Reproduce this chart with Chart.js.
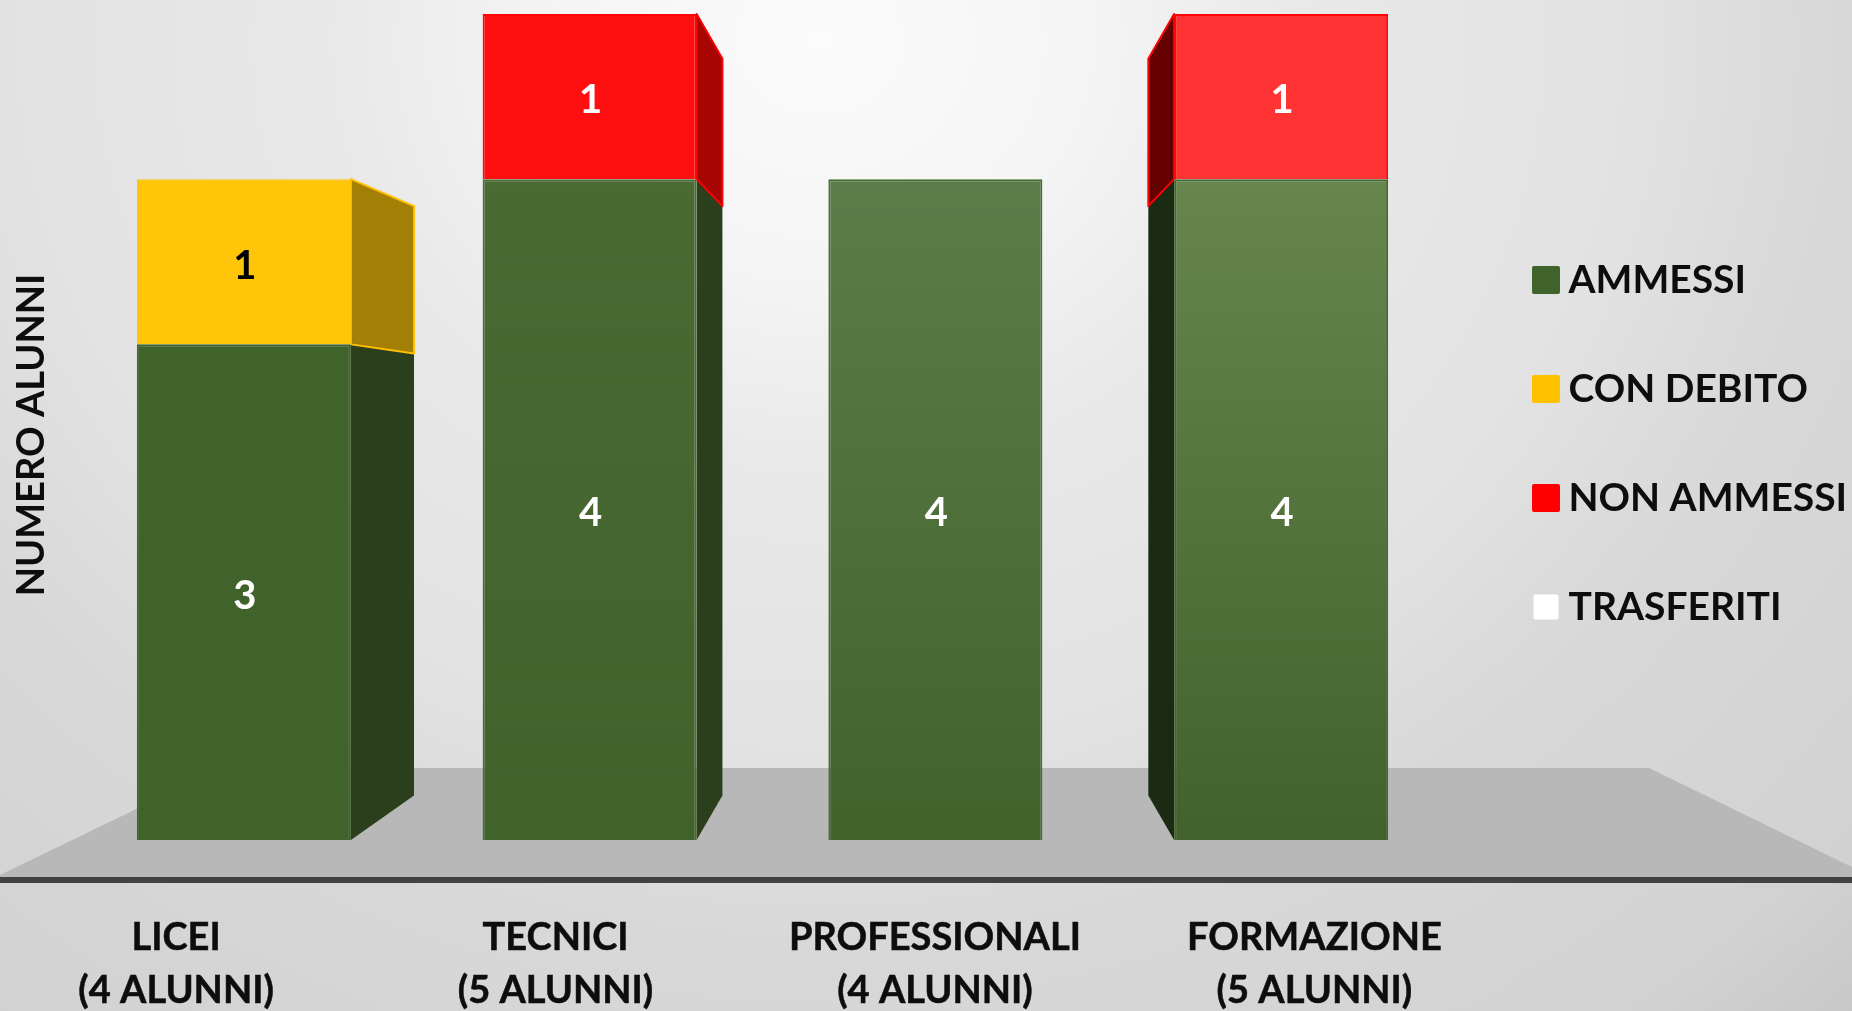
<!DOCTYPE html>
<html><head><meta charset="utf-8">
<style>
html,body{margin:0;padding:0;width:1852px;height:1011px;overflow:hidden;
background:radial-gradient(1300px 1150px at 820px 40px,#fbfbfb 0%,#f5f5f5 20%,#e9e9e9 37%,#e2e2e2 63%,#dcdcdc 72%,#d8d8d8 79%,#d2d2d2 105%,#c8c8c8 116%);}
canvas{display:block;margin-top:-10px;filter:blur(0.5px)}
</style>
<script src="https://cdn.jsdelivr.net/npm/chart.js@4"></script>
</head><body>
<canvas id="c" width="1852" height="1021"></canvas>
<script>
const CATEGORIES = ['LICEI','TECNICI','PROFESSIONALI','FORMAZIONE'];
const TICK_LABELS = [['LICEI','(4 ALUNNI)'],['TECNICI','(5 ALUNNI)'],['PROFESSIONALI','(4 ALUNNI)'],['FORMAZIONE','(5 ALUNNI)']];
const AMMESSI = [3,4,4,4];
const CON_DEBITO = [1,0,0,0];
const NON_AMMESSI = [0,1,0,1];
const TRASFERITI = [0,0,0,0];
const Y_TITLE = 'NUMERO ALUNNI';
// per-bar colours
const GREEN_TOP = ['#40622b','#4a6a34','#5c7d49','#66864e'];
const GREEN_BOTTOM = ['#40622b','#40622b','#40622b','#41622c'];
const GREEN_BORDER = ['#40622b','#4a6c36','#466d32','#44662f'];
const GREEN_SIDE = ['#2b3f1c','#2b3f1c','#2b3f1c','#1b2a12'];
const YELLOW_FACE = ['#ffc508','#ffc508','#ffc508','#ffc508'];
const YELLOW_SIDE = ['#a47f05','#a47f05','#a47f05','#a47f05'];
const RED_FACE = ['#ff1010','#ff1010','#ff1010','#ff3333'];
const RED_SIDE = ['#a80505','#a80505','#a80505','#650000'];
const LEGEND_COLORS = ['#40622b','#ffc000','#ff0000','#ffffff'];
const FONT_FAMILY = 'Lato';
const TEXT = '#0d0d0d';

function marker(color,size){
  const m=document.createElement('canvas');m.width=28;m.height=28;
  const g=m.getContext('2d');g.fillStyle=color;const o=(28-size)/2;
  g.beginPath();g.roundRect(o,o,size,size,2);g.fill();return m;
}
function stackTop(ctx,i){
  let s=0;for(let d=0;d<=ctx.datasetIndex;d++){s+=ctx.chart.data.datasets[d].data[i];}
  return s;
}
function gradFill(top,bottom){
  return ctx=>{
    const i=ctx.dataIndex;
    const y=ctx.chart.scales.y;
    if(!y||!ctx.chart.chartArea||top[i]===bottom[i])return bottom[i];
    const g=ctx.chart.ctx.createLinearGradient(0,y.getPixelForValue(stackTop(ctx,i)),0,y.getPixelForValue(0));
    g.addColorStop(0,top[i]);g.addColorStop(1,bottom[i]);return g;
  };
}
const bw=n=>ctx=>ctx.raw>0?n:0;

const perspective={
  id:'perspective',
  afterLayout(chart){
    const l=chart.legend;
    const w=l.right-l.left;
    l.left=1473;l.right=1473+w;
    const dy=-57;l.top+=dy;l.bottom+=dy;
  },
  beforeDraw(chart){
    const c=chart.ctx,y=chart.scales.y.getPixelForValue(0);
    c.save();c.fillStyle='#b8b8b8';c.beginPath();
    c.moveTo(221,y-72);c.lineTo(1649,y-72);c.lineTo(1852,y+27);c.lineTo(1852,y+40);c.lineTo(0,y+40);c.lineTo(0,y+35);
    c.closePath();c.fill();
    c.strokeStyle='#424242';c.lineWidth=6;c.beginPath();c.moveTo(0,y+40);c.lineTo(1852,y+40);c.stroke();
    c.restore();
  },
  beforeDatasetsDraw(chart){
    const c=chart.ctx;
    const vx=chart.scales.x.getPixelForValue(2),vy=439,k=0.108;
    const sides=[[GREEN_SIDE,null],[YELLOW_SIDE,'#ffc000'],[RED_SIDE,'#ff0000']];
    c.save();c.lineJoin='round';
    sides.forEach(([fill,stroke],d)=>{
      chart.getDatasetMeta(d).data.forEach((b,i)=>{
        if(!(chart.data.datasets[d].data[i]>0))return;
        const p=b.getProps(['x','y','base','width'],true);
        const dir=Math.sign(vx-p.x);
        if(Math.abs(vx-p.x)<1)return;
        const x0=p.x+dir*p.width/2;
        const x1=x0+k*(vx-x0);
        const t1=p.y+k*(vy-p.y),b1=p.base+k*(vy-p.base);
        c.beginPath();c.moveTo(x0,p.y);c.lineTo(x1,t1);c.lineTo(x1,b1);c.lineTo(x0,p.base);c.closePath();
        c.fillStyle=fill[i];c.fill();
        if(stroke){c.strokeStyle=stroke;c.lineWidth=2;c.stroke();}
      });
    });
    c.restore();
  },
  afterDatasetsDraw(chart){
    const c=chart.ctx;
    c.save();c.font='bold 40px '+FONT_FAMILY;c.textAlign='center';c.textBaseline='middle';
    chart.data.datasets.forEach((ds,d)=>{
      chart.getDatasetMeta(d).data.forEach((b,i)=>{
        if(!(ds.data[i]>0))return;
        const p=b.getProps(['x','y','base'],true);
        c.fillStyle=d===1?'#000':'#fff';
        c.fillText(String(ds.data[i]),p.x+1,(p.y+p.base)/2+4);
      });
    });
    c.restore();
  }
};

new Chart(document.getElementById('c'),{
  type:'bar',
  plugins:[perspective],
  data:{labels:CATEGORIES,datasets:[
    {label:'AMMESSI',data:AMMESSI,backgroundColor:gradFill(GREEN_TOP,GREEN_BOTTOM),borderColor:ctx=>GREEN_BORDER[ctx.dataIndex],borderWidth:bw(2)},
    {label:'CON DEBITO',data:CON_DEBITO,backgroundColor:ctx=>YELLOW_FACE[ctx.dataIndex],borderColor:'#ffc000',borderWidth:bw(1)},
    {label:'NON AMMESSI',data:NON_AMMESSI,backgroundColor:ctx=>RED_FACE[ctx.dataIndex],borderColor:'#ff0505',borderWidth:bw(2)},
    {label:'TRASFERITI',data:TRASFERITI,backgroundColor:'#ffffff',borderWidth:0}
  ]},
  options:{
    responsive:false,animation:false,
    layout:{padding:{top:0,left:0,right:20,bottom:0}},
    datasets:{bar:{barPercentage:1,categoryPercentage:0.619,stack:'s'}},
    plugins:{
      tooltip:{enabled:false},
      legend:{position:'right',maxWidth:378,labels:{
        color:TEXT,font:{family:FONT_FAMILY,size:39,weight:'bold'},
        boxWidth:6,boxHeight:28,padding:70,usePointStyle:true,
        generateLabels(chart){
          return Chart.defaults.plugins.legend.labels.generateLabels(chart).map((it,i)=>{
            it.pointStyle=marker(LEGEND_COLORS[i],i===3?25:28);it.lineWidth=0;it.fontColor=TEXT;return it;
          });
        }
      }}
    },
    scales:{
      x:{type:'category',display:false,stacked:true},
      xLabels:{
        type:'linear',axis:'x',position:'bottom',offset:false,min:-0.277,max:3.368,
        afterBuildTicks(s){s.ticks=TICK_LABELS.map((_,v)=>({value:v}));},
        afterFit(s){s.height=131;},
        grid:{display:false,drawTicks:false,offset:false},
        border:{display:false},
        ticks:{
          autoSkip:false,maxRotation:0,padding:31,color:TEXT,textStrokeColor:TEXT,textStrokeWidth:0.5,
          font:{family:FONT_FAMILY,size:38,weight:'bold',lineHeight:1.4},
          callback:v=>TICK_LABELS[v]
        }
      },
      y:{
        stacked:true,min:-0.2421,max:5.145,
        afterFit(s){s.width=71;},
        grid:{display:false},border:{display:false},
        ticks:{display:false},
        title:{display:true,text:Y_TITLE,color:TEXT,font:{family:FONT_FAMILY,size:38,weight:'bold'},padding:{top:9,bottom:16}}
      }
    }
  }
});
</script>
</body></html>
